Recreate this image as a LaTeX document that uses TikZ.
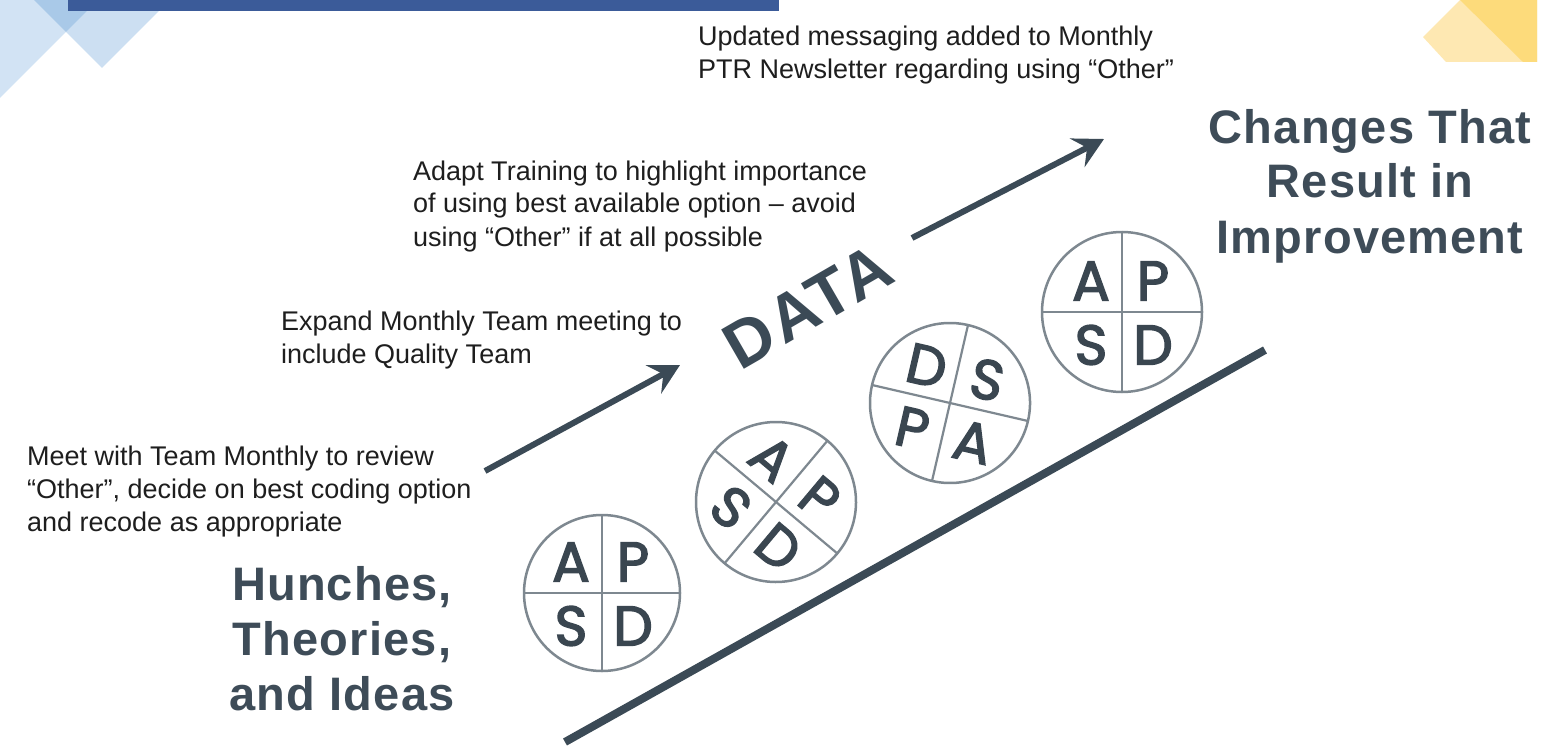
\documentclass[tikz,border=0pt]{standalone}
\usepackage{fontspec}
\setmainfont{Liberation Sans}
\newfontfamily\pdsafont[FakeBold=2.5]{Poppins}
\usetikzlibrary{arrows.meta}
\definecolor{slate}{HTML}{3B4A56}
\definecolor{biglab}{HTML}{3E4C58}
\definecolor{ringcol}{HTML}{7E8890}
\definecolor{lettcol}{HTML}{3A4650}
\definecolor{txtcol}{HTML}{1E1E1E}
\definecolor{barblue}{HTML}{3B5B99}
\definecolor{lblue}{HTML}{D2E3F4}
\definecolor{lblueb}{HTML}{CCDFF2}
\definecolor{mblue}{HTML}{A9C9E8}
\definecolor{lyel}{HTML}{FEE8B2}
\definecolor{dyel}{HTML}{FDDB7B}
\tikzset{
  note/.style={anchor=base west, align=left, inner sep=0pt, text=txtcol,
    font=\fontsize{27}{33}\selectfont},
  biglabel/.style={anchor=base, align=center, inner sep=0pt, text=biglab,
    font=\fontsize{47}{55}\selectfont\bfseries\addfontfeature{LetterSpace=2.5}},
  ring/.style={draw=ringcol, line width=2.5pt},
  divider/.style={draw=ringcol, line width=2.2pt},
  pletter/.style={inner sep=0pt, text=lettcol, font=\fontsize{56}{56}\selectfont\pdsafont},
  uparrow/.style={draw=slate, line width=6pt, -{Stealth[length=30pt,width=32pt,inset=11pt]}},
  baseline/.style={draw=slate, line width=8pt}
}
\begin{document}
\begin{tikzpicture}[x=1pt,y=-1pt]
\useasboundingbox (0,0) rectangle (1544,746);
\fill[white] (0,0) rectangle (1544,746);
% top-left decoration
\fill[lblue] (0,0) -- (98,0) -- (0,98) -- cycle;
\fill[lblueb] (34,0) -- (170,0) -- (102,68) -- cycle;
\fill[mblue] (34,0) -- (98,0) -- (66,32) -- cycle;
\fill[barblue] (68,0) rectangle (779,11);
% top-right decoration
\fill[lyel] (1460,0) -- (1423,37) -- (1446,62) -- (1537,62) -- (1537,0) -- cycle;
\fill[dyel] (1460,0) -- (1523,62) -- (1537,62) -- (1537,0) -- cycle;

% notes (anchor = baseline of the last line)
\node[note] (n1) at (27,531) {Meet with Team Monthly to review\\“Other”, decide on best coding option\\and recode as appropriate};
\node[note] (n2) at (281,363) {Expand Monthly Team meeting to\\include Quality Team};
\node[note] (n3) at (413,246) {Adapt Training to highlight importance\\of using best available option – avoid\\using “Other” if at all possible};
\node[note] (n4) at (698,79) {Updated messaging added to Monthly\\PTR Newsletter regarding using “Other”};

% big labels
\node[biglabel] (hunch) at (342,710) {Hunches,\\Theories,\\and Ideas};
\node[biglabel] (chg) at (1370,253) {Changes That\\Result in\\Improvement};
\node[inner sep=0pt, text=slate, rotate=30,
  font=\fontsize{66}{66}\selectfont\bfseries\addfontfeature{LetterSpace=4}] (data) at (808,306) {DATA};

% connectors
\coordinate (a1s) at (485,471);
\coordinate (a1e) at (680,365);
\coordinate (a2s) at (912,238);
\coordinate (a2e) at (1104,139);
\coordinate (ls) at (565,742);
\coordinate (le) at (1265,350);
\draw[uparrow] (a1s) -- (a1e);
\draw[uparrow] (a2s) -- (a2e);
\draw[baseline] (ls) -- (le);

% PDSA circle 1
\begin{scope}[shift={(602,593)}]
\draw[ring] (0,0) circle[radius=78];
\draw[divider] (-78,0) -- (78,0) (0,-78) -- (0,78);
\node[pletter] (c1a) at (-31,-31) {A};
\node[pletter] (c1p) at (31,-31) {P};
\node[pletter] (c1s) at (-31,33) {S};
\node[pletter] (c1d) at (31,33) {D};
\end{scope}
% PDSA circle 2 (rotated)
\begin{scope}[shift={(776,502)}, rotate=-40]
\draw[ring] (0,0) circle[radius=80];
\draw[divider] (-80,0) -- (80,0) (0,-80) -- (0,80);
\node[pletter, rotate=-40] (c2a) at (-31,-31) {A};
\node[pletter, rotate=-40] (c2p) at (31,-31) {P};
\node[pletter, rotate=-40] (c2s) at (-31,33) {S};
\node[pletter, rotate=-40] (c2d) at (31,33) {D};
\end{scope}
% PDSA circle 3 (rotated)
\begin{scope}[shift={(950,403)}, rotate=-13]
\draw[ring] (0,0) circle[radius=80];
\draw[divider] (-80,0) -- (80,0) (0,-80) -- (0,80);
\node[pletter, rotate=-13] (c3d) at (-31,-31) {D};
\node[pletter, rotate=-13] (c3s) at (31,-31) {S};
\node[pletter, rotate=-13] (c3p) at (-31,33) {P};
\node[pletter, rotate=-13] (c3a) at (31,33) {A};
\end{scope}
% PDSA circle 4
\begin{scope}[shift={(1122,312)}]
\draw[ring] (0,0) circle[radius=80];
\draw[divider] (-80,0) -- (80,0) (0,-80) -- (0,80);
\node[pletter] (c4a) at (-31,-31) {A};
\node[pletter] (c4p) at (31,-31) {P};
\node[pletter] (c4s) at (-31,33) {S};
\node[pletter] (c4d) at (31,33) {D};
\end{scope}
\end{tikzpicture}
\end{document}
